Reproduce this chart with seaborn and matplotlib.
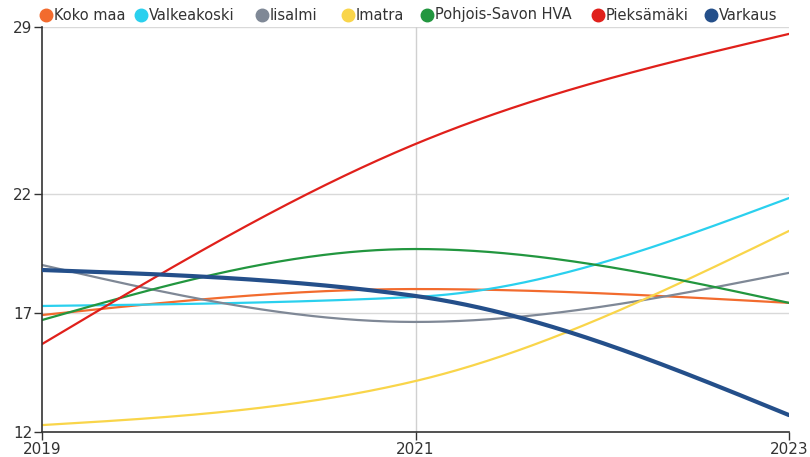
import numpy as np
import pandas as pd
import matplotlib
matplotlib.use("Agg")
import matplotlib.pyplot as plt
import seaborn as sns
from matplotlib.lines import Line2D

years = [2019, 2021, 2023]
series_names = ["Koko maa", "Valkeakoski", "Iisalmi", "Imatra",
                "Pohjois-Savon HVA", "Pieksämäki", "Varkaus"]
koko_maa = [16.91, 18.00, 17.42]
valkeakoski = [17.29, 17.67, 21.82]
iisalmi = [19.01, 16.62, 18.68]
imatra = [12.29, 14.14, 20.44]
pohjois_savon = [16.70, 19.68, 17.42]
pieksamaki = [15.69, 24.09, 28.71]
varkaus = [18.80, 17.71, 12.71]
y_ticks = [12, 17, 22, 29]
x_ticks = [2019, 2021, 2023]

values = [koko_maa, valkeakoski, iisalmi, imatra, pohjois_savon, pieksamaki, varkaus]
colors = ["#f26b2e", "#2ad0ee", "#7f8896", "#f9d54a", "#22963f", "#e0201b", "#244f8a"]
widths = [1.6, 1.6, 1.6, 1.6, 1.6, 1.6, 3.0]


def monotone_curve(x, y, n=200):
    # monotone cubic (d3 curveMonotoneX style) rendering of the data points
    x = np.asarray(x, float)
    y = np.asarray(y, float)
    k = len(x)
    h = np.diff(x)
    s = np.diff(y) / h
    t = np.zeros(k)
    for i in range(1, k - 1):
        p = (s[i - 1] * h[i] + s[i] * h[i - 1]) / (h[i - 1] + h[i])
        t[i] = (np.sign(s[i - 1]) + np.sign(s[i])) * min(abs(s[i - 1]), abs(s[i]), 0.5 * abs(p))
    t[0] = (3 * s[0] - t[1]) / 2
    t[-1] = (3 * s[-1] - t[-2]) / 2
    xs, ys = [], []
    for i in range(k - 1):
        u = np.linspace(0, 1, n)
        h00 = 2 * u ** 3 - 3 * u ** 2 + 1
        h10 = u ** 3 - 2 * u ** 2 + u
        h01 = -2 * u ** 3 + 3 * u ** 2
        h11 = u ** 3 - u ** 2
        xs.append(x[i] + u * h[i])
        ys.append(h00 * y[i] + h10 * h[i] * t[i] + h01 * y[i + 1] + h11 * h[i] * t[i + 1])
    return np.concatenate(xs), np.concatenate(ys)


sns.set_theme(style="white")
plt.rcParams["font.family"] = ["DejaVu Sans"]

fig = plt.figure(figsize=(8.1, 4.57), dpi=100)
ax = fig.add_axes([42 / 810, 1 - 432 / 457, (789 - 42) / 810, (432 - 27) / 457])

frames = []
for name, vals in zip(series_names, values):
    sx, sy = monotone_curve(years, vals)
    frames.append(pd.DataFrame({"year": sx, "value": sy, "series": name}))
df = pd.concat(frames, ignore_index=True)

for name, col, lw in zip(series_names, colors, widths):
    sub = df[df["series"] == name]
    sns.lineplot(data=sub, x="year", y="value", color=col, linewidth=lw, ax=ax,
                 legend=False, zorder=3 if name == "Varkaus" else 2)

ax.set_xlim(2019, 2023)
ax.set_ylim(12, 29)
ax.set_xticks(x_ticks)
ax.set_xticklabels([str(t) for t in x_ticks])
ax.set_yticks(y_ticks)
ax.set_yticklabels([str(t) for t in y_ticks])
ax.set_xlabel("")
ax.set_ylabel("")
for yt in y_ticks[1:]:
    ax.axhline(yt, color="#d9d9d9", linewidth=1, zorder=0)
ax.axvline(2021, color="#d0d0d0", linewidth=1, zorder=0)
for s in ["top", "right"]:
    ax.spines[s].set_visible(False)
for s in ["left", "bottom"]:
    ax.spines[s].set_color("#333333")
    ax.spines[s].set_linewidth(1.2)
ax.tick_params(axis="both", which="both", length=6, width=1, color="#333333",
               labelsize=11, labelcolor="#333333", pad=1, direction="out",
               left=True, bottom=True)

# legend
leg_x = [46, 141, 262, 348, 427, 598, 711]
for name, col, lx in zip(series_names, colors, leg_x):
    fig.add_artist(Line2D([lx / 810], [1 - 15 / 457], marker="o", markersize=9,
                          color=col, linestyle="none", transform=fig.transFigure))
    fig.text((lx + 8) / 810, 1 - 15 / 457, name, fontsize=10.5, color="#333333",
             va="center", ha="left")

fig.savefig("out.png", dpi=100)
